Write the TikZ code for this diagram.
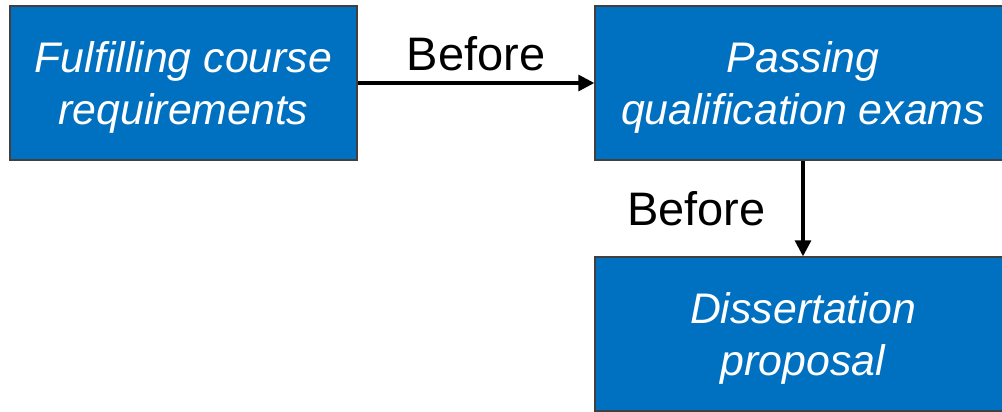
\documentclass[tikz,border=0pt]{standalone}
\usepackage{fontspec}
\setmainfont{Liberation Sans}
\usetikzlibrary{arrows.meta}
\definecolor{boxblue}{HTML}{0070C0}
\newcommand{\firstline}{\rule{0pt}{20pt}}
\begin{document}
\begin{tikzpicture}[x=0.5pt,y=-0.5pt,font=\fontsize{23.5}{27}\selectfont,
	box/.style={draw=black!75,line width=0.7pt,fill=boxblue,text=white,align=center,font=\fontsize{21.4}{26}\selectfont\itshape,minimum height=77pt,inner sep=0pt},
	link/.style={line width=1.6pt,-{Triangle[length=8pt,width=8pt]}}]
		\useasboundingbox (0,0) rectangle (1002,412);
		\node[box,minimum width=173.5pt] (F) at (183.5,83) {\firstline Fulfilling course\\requirements};
		\node[box,minimum width=208pt] (Q) at (803,83) {\firstline Passing\\qualification exams};
		\node[box,minimum width=208pt] (D) at (803,334) {\firstline Dissertation\\proposal};
		\draw[link] (F)--(Q) node[above,midway,yshift=2pt]{Before};
		\draw[link] (Q)--(D) node[left,midway,xshift=-14.5pt]{Before};
		\end{tikzpicture}
\end{document}
